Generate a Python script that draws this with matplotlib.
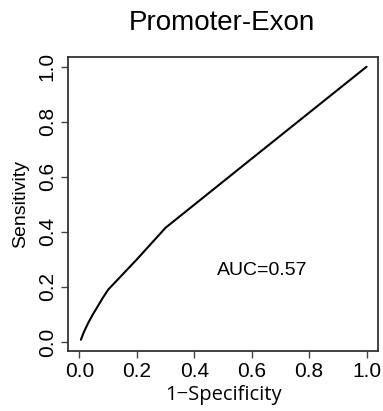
import matplotlib
matplotlib.use("Agg")
import matplotlib.pyplot as plt

# ROC curve points (1 - specificity, sensitivity)
fpr = [0.005, 0.015, 0.03, 0.045, 0.06, 0.08, 0.10, 0.20, 0.30, 0.60, 1.00]
tpr = [0.008, 0.035, 0.068, 0.097, 0.123, 0.158, 0.19, 0.30, 0.415, 0.666, 1.00]
auc_value = 0.57
title = "Promoter-Exon"
ticks = [0.0, 0.2, 0.4, 0.6, 0.8, 1.0]
tick_labels = ["0.0", "0.2", "0.4", "0.6", "0.8", "1.0"]

plt.rcParams["font.family"] = ["Liberation Sans", "DejaVu Sans"]

fig = plt.figure(figsize=(3.83, 4.11), dpi=100)
ax = fig.add_axes([0.1775, 0.146, 0.8095, 0.715])

ax.plot(fpr, tpr, color="black", lw=1.5, solid_capstyle="round", solid_joinstyle="round")
ax.set_xlim(-0.04, 1.04)
ax.set_ylim(-0.033, 1.035)

ax.set_xticks(ticks)
ax.set_xticklabels(tick_labels, fontsize=15)
ax.set_yticks(ticks)
ax.set_yticklabels(tick_labels, fontsize=15, rotation=90, va="center")
ax.tick_params(direction="out", length=5, width=1, color="#444444", pad=3)

for s in ax.spines.values():
    s.set_linewidth(1.3)
    s.set_color("#333333")

ax.set_xlabel("1\u2212Specificity", fontsize=14.5, family=["Open Sans", "DejaVu Sans"], labelpad=3)
ax.set_ylabel("Sensitivity", fontsize=14, labelpad=6)
ax.text(0.635, 0.26, f"AUC={auc_value:.2f}", fontsize=14, ha="center", va="center")

fig.text(0.58, 0.944, title, fontsize=20, ha="center", va="center")

fig.savefig("out.png", dpi=100)
